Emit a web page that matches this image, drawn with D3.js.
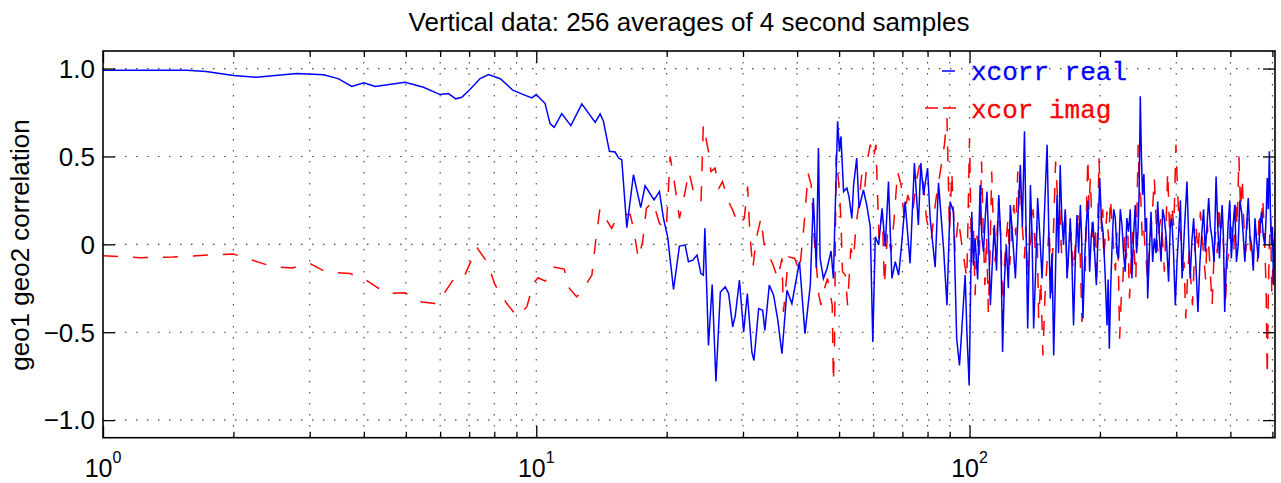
<!DOCTYPE html>
<html lang="en">
<head>
<meta charset="utf-8">
<script src="https://d3js.org/d3.v7.min.js"></script>
<style>
  body { margin: 0; background: #fff; }
  svg { display: block; }
  .lbl { font-family: "Liberation Sans", Arial, Helvetica, sans-serif; fill: #000; }
  .legend { font-family: "Liberation Mono", "Courier New", monospace; font-size: 26px; }
</style>
</head>
<body>
<svg id="chart" width="1281" height="483"></svg>
<script>
// frequencies / values
var realFreq = [1, 1.56, 1.73, 2.0, 2.26, 2.8, 3.23, 3.49, 3.75, 4.0, 4.25, 4.98, 5.49, 6.0, 6.27, 6.52, 6.73, 7.03, 7.42, 7.76,
  8.26, 8.83, 9.34, 9.77, 10.0, 10.48, 10.76, 11.0, 11.45, 12.02, 12.74, 13.68, 14.04, 14.29, 14.75, 15.2, 15.49, 15.75, 16.18, 16.76,
  17.42, 17.83, 18.7, 19.24, 19.66, 20.1, 20.74, 21.4, 22.06, 22.45, 22.98, 23.5, 23.99, 24.3, 24.5, 24.97, 25.47, 25.98, 26.6, 27.3,
  27.8, 28.4, 28.8, 29.44, 30.1, 30.7, 31.45, 31.8, 32.6, 33.3, 33.7, 34.5, 35.3, 36.1, 36.9, 37.9, 38.9, 40.5, 41.7, 42.9,
  43.6, 44.3, 44.8, 45.2, 46.0, 46.9, 47.9, 48.5, 49.6, 50.1, 50.5, 51.2, 52.1, 52.7, 53.5, 54.0, 54.9, 55.6, 56.9, 57.9,
  59.0, 59.8, 60.6, 61.7, 62.8, 63.9, 65.0, 66.2, 67.4, 68.6, 69.8, 71.0, 72.9, 74.6, 76.2, 77.2, 78.3, 80.0, 81.1, 83.3,
  84.8, 87.1, 88.7, 90.2, 91.8, 93.4, 94.8, 96.0, 97.7, 98.6, 99.8,
  101.2, 102.1, 103, 104.4, 105.8, 106.7, 107.7, 108.7, 109.7, 110.7, 111.7, 112.9, 114.1, 115.4, 116.8, 118, 119.2, 120.4, 121.6, 122.9,
  124.2, 125.9, 127.6, 129.3, 131, 132.4, 133.9, 135, 136.2, 137.2, 138.2, 139.4, 140.6, 142.1, 143.6, 145.3, 147, 149, 151, 152.3,
  153.6, 155, 156.4, 157.8, 159.2, 160.5, 161.9, 163.3, 164.8, 166.3, 167.9, 169.3, 170.8, 172.3, 173.8, 175.4, 177, 178.6, 180.2, 181.4,
  182.7, 184.3, 185.9, 187.6, 189.3, 191, 192.7, 194.4, 196.2, 198, 199.7, 201.5, 203.3, 205.4, 207.6, 208.9, 210.2, 211.7, 213.3, 215.1,
  217, 218.9, 220.8, 222.8, 224.8, 226.7, 228.7, 230.7, 232.8, 234.9, 237, 239.1, 241.3, 243, 244.8, 246.3, 247.8, 249.3, 250.8, 252.6,
  254.5, 256.1, 257.7, 260, 262.3, 264.6, 267, 269.4, 271.8, 274.2, 276.7, 279.1, 281.6, 284.8, 288, 290.5, 293, 295.7, 298.5, 301.2,
  304, 306.7, 309.4, 313.5, 317.6, 320.3, 323, 326, 329, 332.8, 336.6, 340.2, 343.8, 346.9, 350, 353.2, 356.4, 359.6, 362.9, 366.8,
  370.7, 374.1, 377.5, 380.1, 382.8, 385.4, 388.1, 391.6, 395.2, 398.6, 402, 405.6, 409.3, 413.1, 416.9, 420.7, 424.5, 428.2, 432, 435.9,
  439.8, 443.8, 447.8, 451.8, 455.8, 459.8, 463.8, 467.9, 472, 476.3, 480.6, 483.5, 486.5, 489.2, 492, 494.7, 497.5, 500.2, 503, 505,
  507];
var realVal = [0.99, 0.99, 0.983, 0.96, 0.951, 0.972, 0.965, 0.943, 0.898, 0.919, 0.898, 0.922, 0.894, 0.852, 0.858, 0.828, 0.837, 0.881, 0.943, 0.966,
  0.942, 0.877, 0.852, 0.833, 0.852, 0.801, 0.687, 0.666, 0.744, 0.675, 0.799, 0.694, 0.742, 0.70, 0.529, 0.525, 0.491, 0.481, 0.095, 0.396,
  0.209, 0.333, 0.253, 0.30, 0.148, 0.043, -0.257, -0.01, -0.004, -0.099, -0.09, -0.061, -0.166, -0.175, 0.091, -0.575, -0.228, -0.78, -0.271, -0.242,
  -0.28, -0.47, -0.404, -0.204, -0.499, -0.28, -0.613, -0.661, -0.365, -0.375, -0.489, -0.232, -0.289, -0.432, -0.622, -0.261, -0.337, -0.099, -0.508, -0.232,
  0.263, -0.135, 0.548, -0.08, -0.194, -0.137, -0.038, -0.194, 0.70, 0.529, 0.614, 0.30, 0.32, 0.272, 0.148, 0.338, 0.491, 0.205, 0.31, 0.224,
  0.10, -0.556, 0.043, -0.004, 0.205, -0.014, 0.357, -0.194, -0.099, -0.175, 0.015, 0.243, -0.108, 0.462, 0.11, 0.462, 0.281, 0.434, 0.15, -0.13,
  0.35, -0.023, -0.346, 0.243, 0.186, -0.537, -0.689, -0.479, -0.175, -0.499, -0.803,
  0.186, -0.12, 0.034, -0.2, 0.338, 0.05, -0.042, 0.15, 0.30, 0.02, -0.346, -0.1, 0.11, -0.15, 0.281, 0.05, -0.613, -0.2, -0.004, -0.25,
  0.224, 0.02, -0.194, 0.15, 0.452, 0.1, 0.643, 0.1, -0.479, -0.1, 0.338, 0.05, -0.479, -0.15, 0.263, 0.05, -0.194, 0.2, 0.567, 0.1,
  -0.308, -0.05, -0.632, -0.2, 0.281, -0.05, 0.452, 0.15, -0.004, 0.2, -0.194, -0.05, 0.148, -0.1, -0.461, -0.1, 0.167, -0.05, 0.224, 0.05,
  -0.422, -0.1, 0.11, 0.25, -0.156, 0.05, 0.129, -0.05, -0.232, 0.05, 0.377, 0.15, 0.072, -0.15, -0.461, -0.2, -0.594, -0.25, -0.004, 0.2,
  0.148, -0.05, -0.08, 0.2, 0.11, -0.05, -0.156, 0.15, 0.072, 0.2, -0.194, 0.05, 0.224, -0.05, 0.072, 0.3, 0.842, 0.5, 0.281, 0.4,
  0.072, 0.15, -0.308, -0.05, 0.186, -0.1, 0.034, -0.05, 0.243, 0.05, -0.099, 0.2, 0.148, 0.02, -0.213, 0.1, 0.148, -0.05, -0.346, -0.1,
  0.072, 0.25, -0.194, 0.1, 0.357, 0.05, -0.194, 0.02, 0.148, -0.1, -0.385, -0.1, 0.072, 0.2, -0.042, 0.1, 0.263, 0.1, 0.034, -0.1,
  0.386, 0.1, -0.08, 0.1, 0.224, 0.05, -0.385, -0.1, 0.11, 0.25, -0.08, 0.1, 0.224, -0.1, -0.004, 0.25, 0.186, 0.05, -0.099, 0.1,
  0.263, 0.05, -0.004, -0.15, 0.148, 0.02, -0.08, 0.1, 0.186, 0.05, -0.004, 0.15, 0.377, 0.2, 0.529, 0.2, -0.004, 0.1, -0.232, -0.05,
  0.072];

var imagFreq = [1, 1.22, 1.45, 1.8, 2.0, 2.47, 2.73, 3.0, 3.26, 3.72, 3.99, 4.52, 4.98, 5.44, 5.89, 6.05, 6.44, 6.79, 7.29, 7.69,
  8.04, 8.55, 9.02, 9.51, 9.85, 10.1, 10.48, 10.76, 10.94, 11.6, 11.93, 12.4, 12.85, 13.44, 13.72, 14.03, 14.33, 14.93, 15.28, 15.84,
  16.47, 16.76, 17.2, 17.6, 17.95, 18.59, 19.24, 19.95, 20.37, 20.93, 21.4, 22.06, 22.5, 23.2, 24.0, 24.3, 24.97, 25.3, 25.86, 26.4,
  26.9, 27.8, 28.5, 29.25, 30.2, 30.75, 31.1, 31.6, 32.2, 33.0, 33.5, 34.2, 35.2, 36.1, 36.9, 37.2, 38.2, 39.5, 40.5, 41.5,
  42.4, 43.1, 43.9, 44.9, 45.4, 46.0, 47.0, 48.2, 48.5, 48.8, 49.2, 50.1, 50.5, 50.9, 51.7, 52.3, 53.2, 54.0, 54.7, 55.5,
  56.4, 57.3, 58.0, 59.0, 60.0, 60.8, 61.8, 62.9, 63.6, 64.7, 65.9, 67.0, 68.2, 69.5, 70.7, 72.0, 74.0, 75.3, 76.7, 78.2,
  79.6, 81.6, 83.6, 87.5, 88.7, 89.9, 91.0, 92.6, 94.2, 96.0, 98.6,
  100, 100.6, 101.2, 102.1, 103, 104.1, 105.3, 106, 106.6, 107.5, 108.5, 109.5, 110.5, 111.5, 112.5, 113.5, 114.6, 115.7, 116.8, 118.1,
  119.5, 120.5, 121.6, 122.7, 123.8, 125.1, 126.5, 127.8, 129.2, 130.1, 131, 132.4, 133.9, 135, 136.2, 137.4, 138.7, 140.2, 141.8, 143.1,
  144.4, 146, 147.7, 149.3, 151, 152.6, 154.3, 156.1, 158, 159.7, 161.5, 163.1, 164.8, 166.3, 167.9, 169.6, 171.4, 173.4, 175.5, 177,
  178.6, 180.2, 181.8, 183.4, 185, 186.2, 187.5, 188.7, 190, 191.8, 193.7, 195, 196.2, 197.6, 199, 200.5, 202, 203, 204, 205.8,
  207.6, 209.5, 211.5, 213.4, 215.3, 217.1, 219, 220.5, 222, 224, 226, 228, 230, 232, 234, 236, 238, 240, 242, 243.5,
  245, 246.7, 248.5, 250.2, 252, 254.8, 257.7, 259.8, 262, 264.5, 267, 269.4, 271.8, 274.2, 276.7, 279.1, 281.6, 284.1, 286.6, 289.8,
  293, 296.2, 299.5, 302.1, 304.7, 307.3, 310, 312.7, 315.5, 318.4, 321.3, 324.1, 327, 330, 333, 337, 341, 344.2, 347.5, 350.7,
  354, 358.4, 362.9, 366.2, 369.5, 373, 376.5, 379.6, 382.8, 386.4, 390, 393.5, 397, 400.2, 403.5, 407.2, 411, 414.7, 418.5, 422.2,
  426, 430, 434, 438, 442, 446, 450, 454, 458, 462, 466, 470.5, 475, 479.2, 483.5, 486.5, 489.2, 492, 495.2, 498.5,
  501.7, 505];
var imagVal = [-0.065, -0.076, -0.072, -0.059, -0.055, -0.128, -0.135, -0.108, -0.156, -0.166, -0.194, -0.28, -0.276, -0.328, -0.337, -0.299, -0.20, -0.194, -0.017, -0.099,
  -0.232, -0.337, -0.409, -0.356, -0.22, -0.19, -0.209, -0.17, -0.128, -0.141, -0.251, -0.299, -0.251, -0.175, 0.025, 0.205, 0.163, 0.091, 0.144, 0.167,
  0.171, 0.091, -0.08, 0.015, 0.205, 0.243, 0.12, 0.082, 0.50, 0.32, 0.148, 0.30, 0.414, 0.272, 0.243, 0.681, 0.529, 0.414, 0.434, 0.32,
  0.357, 0.243, 0.186, 0.11, 0.148, 0.329, 0.072, -0.137, 0.034, 0.148, 0.015, -0.042, -0.118, -0.194, -0.08, -0.385, -0.071, -0.08, -0.156, 0.11,
  0.405, 0.338, -0.004, -0.289, -0.346, -0.271, -0.194, -0.346, -0.784, -0.575, 0.51, 0.30, 0.129, -0.156, -0.175, -0.346, -0.023, -0.08, 0.11, 0.224,
  0.396, 0.32, 0.471, 0.567, 0.491, 0.567, 0.034, 0.186, -0.232, 0.072, -0.042, 0.148, 0.414, 0.338, 0.148, 0.281, 0.186, 0.357, 0.452, 0.35,
  0.14, 0.03, 0.25, 0.567, 0.719, 0.072, 0.414, -0.042, 0.148, -0.004, -0.194,
  0.605, 0.2, -0.118, 0.1, -0.289, 0.05, -0.08, 0.2, 0.471, 0.1, -0.232, 0.05, -0.385, -0.05, 0.414, 0.1, -0.099, 0.05, 0.263, 0.02,
  -0.422, -0.1, 0.034, 0.15, -0.118, 0.05, 0.224, 0.05, 0.414, 0.2, 0.357, 0.1, -0.08, 0.1, -0.194, -0.02, 0.034, 0.2, -0.042, 0.1,
  -0.422, -0.2, -0.632, -0.3, -0.099, 0.1, -0.289, 0.05, 0.471, 0.25, 0.2, -0.05, 0.072, 0.2, -0.156, -0.05, 0.072, -0.15, -0.004, 0.1,
  0.186, -0.1, -0.442, -0.2, -0.156, 0.2, 0.491, 0.2, 0.377, 0.1, -0.042, 0.1, -0.232, 0.1, 0.491, 0.2, 0.072, 0.2, -0.08, 0.05,
  0.186, 0.02, 0.263, 0.1, -0.042, -0.15, 0.072, -0.1, -0.537, -0.3, -0.194, 0.05, -0.08, 0.05, -0.308, -0.1, 0.072, -0.05, -0.194, 0.2,
  0.567, 0.3, 0.263, 0.05, 0.11, -0.05, -0.194, -0.05, 0.072, 0.2, 0.377, 0.15, -0.042, 0.1, 0.148, 0.02, -0.156, 0.1, 0.414, 0.05,
  0.224, 0.1, 0.567, 0.3, 0.11, 0.05, -0.194, -0.1, -0.422, -0.2, -0.042, -0.2, -0.346, -0.1, 0.11, -0.05, 0.186, 0.05, -0.08, -0.2,
  0.11, -0.1, -0.346, -0.1, 0.072, -0.05, 0.224, 0.05, 0.148, -0.05, -0.308, -0.1, -0.042, 0.15, 0.072, -0.05, 0.263, 0.1, 0.50, 0.2,
  0.377, 0.1, -0.042, 0.15, 0.072, -0.05, -0.118, 0.05, 0.072, -0.1, 0.186, 0.05, 0.263, 0.05, -0.232, -0.75, -0.3, -0.004, 0.15, -0.289,
  -0.1, 0.072];

var yTicks = [-1, -0.5, 0, 0.5, 1];
var yTickLabels = ["\u22121.0", "\u22120.5", "0", "0.5", "1.0"];
var xMajor = [1, 10, 100];
var xMajorExp = ["0", "1", "2"];

var svg = d3.select("#chart");
var W = 1281, H = 483;
var plotL = 103, plotR = 1275, plotT = 51, plotB = 437.7;

var x = d3.scaleLog().domain([1, 507]).range([plotL, plotR]);
var y = d3.scaleLinear().domain([-1.1, 1.1]).range([plotB, plotT]);

var xMinor = [];
[1, 10, 100].forEach(function (d) {
  for (var k = 2; k <= 9; k++) if (d * k < 507) xMinor.push(d * k);
});
var xAll = xMajor.concat(xMinor);

svg.append("rect").attr("width", W).attr("height", H).attr("fill", "#fff");

// grid
var grid = svg.append("g").attr("stroke", "#444").attr("stroke-width", 1.1).attr("stroke-dasharray", "1.5,9.5");
grid.selectAll(".gx").data(xAll.filter(function (d) { return d > 1; })).enter().append("line")
  .attr("x1", function (d) { return x(d); }).attr("x2", function (d) { return x(d); })
  .attr("y1", plotT).attr("y2", plotB);
grid.selectAll(".gy").data(yTicks).enter().append("line")
  .attr("y1", function (d) { return y(d); }).attr("y2", function (d) { return y(d); })
  .attr("x1", plotL).attr("x2", plotR);

// data lines
svg.append("clipPath").attr("id", "clip").append("rect")
  .attr("x", plotL).attr("y", plotT).attr("width", plotR - plotL).attr("height", plotB - plotT);

var line = d3.line().x(function (d) { return x(d[0]); }).y(function (d) { return y(d[1]); });
var realData = realFreq.map(function (f, i) { return [f, realVal[i]]; });
var imagData = imagFreq.map(function (f, i) { return [f, imagVal[i]]; });

var plot = svg.append("g").attr("clip-path", "url(#clip)");
plot.append("path").datum(imagData).attr("d", line)
  .attr("fill", "none").attr("stroke", "#ff0000").attr("stroke-width", 1.5)
  .attr("stroke-dasharray", "15,15");
plot.append("path").datum(realData).attr("d", line)
  .attr("fill", "none").attr("stroke", "#0000ff").attr("stroke-width", 1.5);

// axes (ticks inward on all four sides)
function styleAxis(g) {
  g.select(".domain").remove();
  g.selectAll(".tick line").attr("stroke", "#000").attr("stroke-width", 1.3);
  g.selectAll(".tick text").remove();
}
svg.append("g").attr("transform", "translate(" + plotL + ",0)")
  .call(d3.axisLeft(y).tickValues(yTicks).tickSize(-12)).call(styleAxis);
svg.append("g").attr("transform", "translate(" + plotR + ",0)")
  .call(d3.axisRight(y).tickValues(yTicks).tickSize(-12)).call(styleAxis);
svg.append("g").attr("transform", "translate(0," + plotB + ")")
  .call(d3.axisBottom(x).tickValues(xMajor).tickSize(-12)).call(styleAxis);
svg.append("g").attr("transform", "translate(0," + plotB + ")")
  .call(d3.axisBottom(x).tickValues(xMinor).tickSize(-6)).call(styleAxis);
svg.append("g").attr("transform", "translate(0," + plotT + ")")
  .call(d3.axisTop(x).tickValues(xMajor).tickSize(-12)).call(styleAxis);
svg.append("g").attr("transform", "translate(0," + plotT + ")")
  .call(d3.axisTop(x).tickValues(xMinor).tickSize(-6)).call(styleAxis);

svg.append("rect").attr("x", plotL).attr("y", plotT).attr("width", plotR - plotL).attr("height", plotB - plotT)
  .attr("fill", "none").attr("stroke", "#000").attr("stroke-width", 1.6);

// tick labels
svg.selectAll(".ylab").data(yTicks).enter().append("text").attr("class", "lbl")
  .attr("x", plotL - 8).attr("y", function (d) { return y(d); }).attr("dy", "0.36em")
  .attr("text-anchor", "end").attr("font-size", 26)
  .text(function (d, i) { return yTickLabels[i]; });

var xl = svg.selectAll(".xlab").data(xMajor).enter().append("text").attr("class", "lbl")
  .attr("x", function (d) { return x(d); }).attr("y", 477).attr("text-anchor", "middle").attr("font-size", 25);
xl.append("tspan").text("10");
xl.append("tspan").attr("font-size", 16).attr("dy", -14).text(function (d, i) { return xMajorExp[i]; });

// title and y label
svg.append("text").attr("class", "lbl").attr("x", 689).attr("y", 31).attr("text-anchor", "middle")
  .attr("font-size", 26).text("Vertical data: 256 averages of 4 second samples");
svg.append("text").attr("class", "lbl").attr("transform", "translate(29,245) rotate(-90)")
  .attr("text-anchor", "middle").attr("font-size", 26).text("geo1 geo2 correlation");

// legend
var lg = svg.append("g");
lg.append("line").attr("x1", 942).attr("x2", 955).attr("y1", 71).attr("y2", 71)
  .attr("stroke", "#0000ff").attr("stroke-width", 1.5);
lg.append("line").attr("x1", 925).attr("x2", 956).attr("y1", 108).attr("y2", 108)
  .attr("stroke", "#ff0000").attr("stroke-width", 1.5).attr("stroke-dasharray", "13,5");
lg.append("text").attr("class", "legend").attr("x", 971).attr("y", 80).attr("fill", "#0000ff")
  .attr("stroke", "#0000ff").attr("stroke-width", 0.3).text("xcorr real");
lg.append("text").attr("class", "legend").attr("x", 971).attr("y", 118).attr("fill", "#ff0000")
  .attr("stroke", "#ff0000").attr("stroke-width", 0.3).text("xcor imag");
</script>
</body>
</html>
